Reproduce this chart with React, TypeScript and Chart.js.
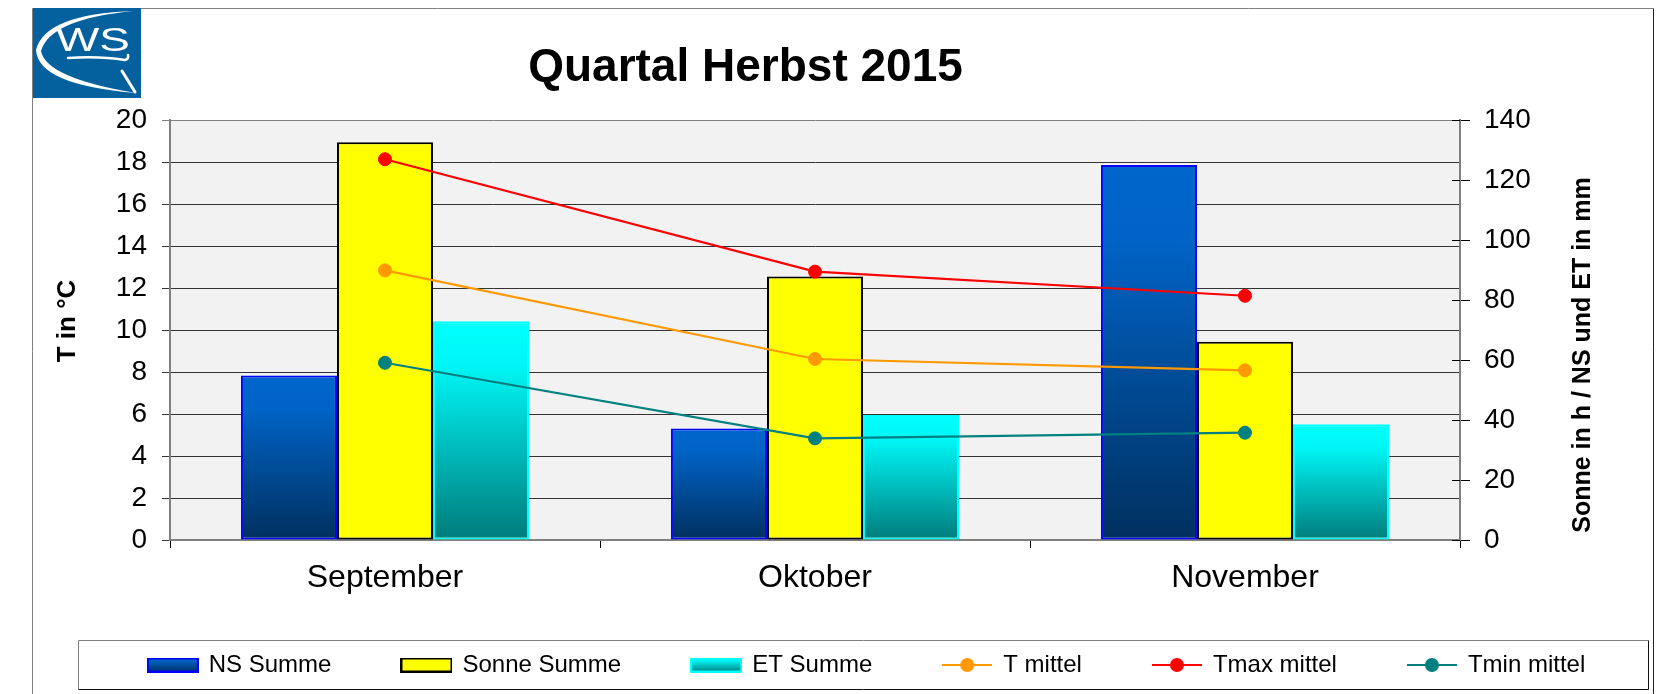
import React, { useEffect, useRef } from 'react';
import { Chart, registerables } from 'chart.js';

Chart.register(...registerables);

const FONT = '"Liberation Sans", Arial, Helvetica, sans-serif';
Chart.defaults.font.family = FONT;

const categories = ['September', 'Oktober', 'November'];
const nsSumme = [54.8, 37.2, 125.0];
const sonneSumme = [132.6, 87.8, 66.1];
const etSumme = [72.9, 41.7, 38.6];
const tMittel = [12.84, 8.62, 8.08];
const tMaxMittel = [18.13, 12.78, 11.63];
const tMinMittel = [8.44, 4.84, 5.11];
const seriesLabels = ['NS Summe', 'Sonne Summe', 'ET Summe', 'T mittel', 'Tmax mittel', 'Tmin mittel'];
const chartTitle = 'Quartal Herbst 2015';
const leftAxisTitle = 'T in °C';
const rightAxisTitle = 'Sonne in h / NS und ET in mm';

const NS_STOPS: [number, string][] = [[0, '#0066CC'], [0.2, '#0063C6'], [1, '#00305F']];
const ET_STOPS: [number, string][] = [[0, '#00FFFF'], [0.2, '#00F6F6'], [1, '#007B7B']];

function vGradient(stops: [number, string][]) {
  return (c: any) => {
    const chart = c.chart;
    const y = chart.scales && chart.scales.y2;
    if (!chart.chartArea || !y || c.raw == null) return stops[0][1];
    const top = y.getPixelForValue(c.raw);
    const bottom = y.getPixelForValue(0);
    if (!isFinite(top) || !isFinite(bottom) || top === bottom) return stops[0][1];
    const g = chart.ctx.createLinearGradient(0, top, 0, bottom);
    stops.forEach(([o, col]) => g.addColorStop(o, col));
    return g;
  };
}

function boxImage(stops: [number, string][], stroke: string) {
  const cv = document.createElement('canvas');
  cv.width = 52;
  cv.height = 15;
  const x = cv.getContext('2d')!;
  const g = x.createLinearGradient(0, 0, 0, 15);
  stops.forEach(([o, col]) => g.addColorStop(o, col));
  x.fillStyle = g;
  x.fillRect(0, 0, 52, 15);
  x.strokeStyle = stroke;
  x.lineWidth = 2;
  x.strokeRect(1, 1, 50, 13);
  return cv;
}

function lineImage(color: string) {
  const cv = document.createElement('canvas');
  cv.width = 50;
  cv.height = 16;
  const x = cv.getContext('2d')!;
  x.strokeStyle = color;
  x.lineWidth = 2;
  x.beginPath();
  x.moveTo(0, 8);
  x.lineTo(50, 8);
  x.stroke();
  x.fillStyle = color;
  x.beginPath();
  x.arc(25, 8, 7, 0, Math.PI * 2);
  x.fill();
  return cv;
}

const decorPlugin = {
  id: 'decor',
  beforeDraw(chart: any) {
    const { ctx, chartArea: a } = chart;
    ctx.save();
    ctx.fillStyle = '#ffffff';
    ctx.fillRect(0, 0, chart.width, chart.height);
    ctx.fillStyle = '#F2F2F2';
    ctx.fillRect(a.left, a.top, a.right - a.left, a.bottom - a.top);
    ctx.restore();
  },
  afterDraw(chart: any) {
    const { ctx, chartArea: a } = chart;
    ctx.save();
    // inner tick marks of right axis
    const y2 = chart.scales.y2;
    ctx.strokeStyle = '#000';
    ctx.lineWidth = 1;
    ctx.beginPath();
    y2.ticks.forEach((t: any) => {
      const py = Math.round(y2.getPixelForValue(t.value)) + 0.5;
      ctx.moveTo(a.right - 8, py);
      ctx.lineTo(a.right, py);
    });
    ctx.stroke();

    // outer frame
    ctx.strokeStyle = '#808080';
    ctx.beginPath();
    ctx.moveTo(32.5, 694);
    ctx.lineTo(32.5, 8.5);
    ctx.lineTo(1653.5, 8.5);
    ctx.stroke();
    ctx.strokeStyle = '#222';
    ctx.beginPath();
    ctx.moveTo(1653.5, 8.5);
    ctx.lineTo(1653.5, 694);
    ctx.stroke();

    // legend frame
    ctx.strokeStyle = '#808080';
    ctx.beginPath();
    ctx.moveTo(78.5, 689.5);
    ctx.lineTo(78.5, 640.5);
    ctx.lineTo(1648.5, 640.5);
    ctx.stroke();
    ctx.strokeStyle = '#111';
    ctx.beginPath();
    ctx.moveTo(1648.5, 640.5);
    ctx.lineTo(1648.5, 689.5);
    ctx.lineTo(78.5, 689.5);
    ctx.stroke();

    // title
    ctx.fillStyle = '#000';
    ctx.font = `bold 46px ${FONT}`;
    ctx.textAlign = 'center';
    ctx.textBaseline = 'alphabetic';
    ctx.fillText(chartTitle, 745.5, 81);

    // axis titles
    ctx.save();
    ctx.translate(75, 321);
    ctx.rotate(-Math.PI / 2);
    ctx.font = `bold 26px ${FONT}`;
    ctx.fillText(leftAxisTitle, 0, 0);
    ctx.restore();
    ctx.save();
    ctx.translate(1590, 355);
    ctx.rotate(-Math.PI / 2);
    ctx.font = `bold 25px ${FONT}`;
    ctx.fillText(rightAxisTitle, 0, 0);
    ctx.restore();

    // logo
    ctx.fillStyle = '#05619D';
    ctx.fillRect(33, 8, 108, 90);
    ctx.fillStyle = '#fff';
    ctx.strokeStyle = '#fff';
    ctx.beginPath();
    ctx.moveTo(134, 11);
    ctx.quadraticCurveTo(45, 14, 36, 50);
    ctx.quadraticCurveTo(38, 85, 136, 93);
    ctx.quadraticCurveTo(46, 78, 41, 51);
    ctx.quadraticCurveTo(50, 19, 134, 11);
    ctx.closePath();
    ctx.fill();
    ctx.lineWidth = 3;
    ctx.lineCap = 'round';
    ctx.beginPath();
    ctx.moveTo(135, 92);
    ctx.lineTo(122, 71);
    ctx.stroke();
    ctx.lineWidth = 2.5;
    ctx.beginPath();
    ctx.moveTo(68, 58);
    ctx.quadraticCurveTo(100, 56, 125, 60);
    ctx.quadraticCurveTo(129, 59, 128, 55);
    ctx.stroke();
    ctx.save();
    ctx.translate(56, 51);
    ctx.scale(1.35, 1);
    ctx.font = `34px ${FONT}`;
    ctx.textAlign = 'left';
    ctx.fillText('WS', 0, 0);
    ctx.restore();

    ctx.restore();
  },
};

export default function App() {
  const ref = useRef<HTMLCanvasElement>(null);
  useEffect(() => {
    document.body.style.margin = '0';
    const legendImages = [
      boxImage(NS_STOPS, '#0000FF'),
      boxImage([[0, '#FFFF00'], [1, '#FFFF00']], '#000000'),
      boxImage(ET_STOPS, '#00FFFF'),
      lineImage('#FF9900'),
      lineImage('#FF0000'),
      lineImage('#008080'),
    ];
    const lineDs = (i: number, data: number[], color: string) => ({
      type: 'line' as const,
      label: seriesLabels[i],
      data,
      yAxisID: 'y',
      borderColor: color,
      backgroundColor: color,
      borderWidth: 2.2,
      pointRadius: 6.5,
      pointBorderWidth: 1,
      pointBackgroundColor: color,
      pointBorderColor: color,
      tension: 0,
      order: 1,
    });
    const barCommon = {
      type: 'bar' as const,
      yAxisID: 'y2',
      borderWidth: 2,
      borderSkipped: false,
      categoryPercentage: 0.67,
      barPercentage: 1,
      order: 2,
    };
    const chart = new Chart(ref.current!, {
      type: 'bar',
      data: {
        labels: categories,
        datasets: [
          { ...barCommon, label: seriesLabels[0], data: nsSumme, backgroundColor: vGradient(NS_STOPS), borderColor: '#0000FF' },
          { ...barCommon, label: seriesLabels[1], data: sonneSumme, backgroundColor: '#FFFF00', borderColor: '#000000' },
          { ...barCommon, label: seriesLabels[2], data: etSumme, backgroundColor: vGradient(ET_STOPS), borderColor: '#00FFFF' },
          lineDs(3, tMittel, '#FF9900'),
          lineDs(4, tMaxMittel, '#FF0000'),
          lineDs(5, tMinMittel, '#008080'),
        ] as any,
      },
      options: {
        responsive: false,
        animation: false,
        devicePixelRatio: 1,
        layout: { padding: { left: 64, right: 0, top: 120, bottom: 7 } },
        plugins: {
          title: { display: false },
          tooltip: { enabled: false },
          legend: {
            position: 'bottom',
            labels: {
              usePointStyle: true,
              pointStyleWidth: 48,
              boxHeight: 15,
              padding: 71,
              color: '#000',
              font: { family: FONT, size: 24 },
              generateLabels: () =>
                seriesLabels.map((t, i) => ({
                  text: t,
                  datasetIndex: i,
                  pointStyle: legendImages[i] as any,
                  fillStyle: '#fff',
                  strokeStyle: '#000',
                  lineWidth: 0,
                  hidden: false,
                  fontColor: '#000',
                })),
            },
          },
        },
        scales: {
          x: {
            offset: true,
            grid: { offset: true, drawOnChartArea: false, tickLength: 8, color: '#000', lineWidth: 1 },
            border: { color: '#808080', width: 2 },
            // mirror avoids clipping of labels to the (short) axis box; negative padding places them below the axis
            ticks: { color: '#000', font: { family: FONT, size: 32 }, mirror: true, padding: -57, maxRotation: 0, autoSkip: false },
            afterFit: (s: any) => {
              s.height = 42;
            },
          },
          y: {
            position: 'left',
            min: 0,
            max: 20,
            ticks: { stepSize: 2, color: '#000', font: { family: FONT, size: 28 }, padding: 15 },
            grid: {
              color: (c: any) => (c.tick && c.tick.value === 20 ? '#808080' : '#333333'),
              tickLength: 8,
              lineWidth: 1,
            },
            border: { color: '#808080', width: 2 },
            afterFit: (s: any) => {
              s.width = 106;
            },
          },
          y2: {
            position: 'right',
            min: 0,
            max: 140,
            ticks: { stepSize: 20, color: '#000', font: { family: FONT, size: 28 }, padding: 14 },
            grid: { drawOnChartArea: false, tickLength: 10, color: '#000', lineWidth: 1 },
            border: { color: '#808080', width: 2 },
            afterFit: (s: any) => {
              s.width = 210;
            },
          },
        },
      } as any,
      plugins: [decorPlugin],
    });
    return () => chart.destroy();
  }, []);
  return (
    <div style={{ position: 'absolute', left: 0, top: 0, width: 1670, height: 694, background: '#fff' }}>
      <canvas ref={ref} width={1670} height={694} style={{ display: 'block', width: 1670, height: 694 }} />
    </div>
  );
}
